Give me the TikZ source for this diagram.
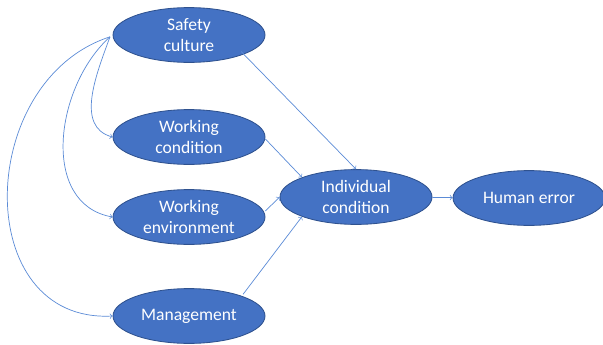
\documentclass[tikz,border=0pt]{standalone}
\usepackage{fontspec}
\setmainfont{Carlito}
\usetikzlibrary{positioning}
\usetikzlibrary{shapes}
\usetikzlibrary{arrows}
\definecolor{boxblue}{HTML}{4472C4}
\definecolor{rimblue}{HTML}{2F528F}
\definecolor{linkblue}{HTML}{5B8BD6}
\tikzstyle{E} = [ellipse,draw=rimblue,fill=boxblue,line width=0.6pt,minimum width=3.8cm,minimum height=1.37cm,inner sep=0pt,text=white,align=center,font=\fontsize{12.5}{14.5}\selectfont]
\tikzstyle{L} = [->,draw=linkblue,line width=0.5pt]

\begin{document}
\begin{tikzpicture}
	\useasboundingbox (0,0) rectangle (15.075,-8.6);
	
	\node [E] (sc) at(4.725,-0.875) {Safety\\culture};
	\node [E] (wc) at(4.725,-3.425) {Working\\condition};
	\node [E] (we) at(4.725,-5.425) {Working\\environment};
	\node [E] (m) at(4.725,-7.9) {Management};
	\node [E] (ic) at(8.9,-4.925) {Individual\\condition};
	\node [E] (he) at(13.225,-4.95) {Human error};
	%%%%%%%%%%%%%%%
	\coordinate (s) at (2.75,-0.92);
	\draw [L] (s) to[out=250,in=165] (wc.west);
	\draw [L] (s) to[out=222,in=170,looseness=1.05] (we.west);
	\draw [L] (s) to[out=198,in=183,looseness=1.3] (m.west);
	%%%%%%%%%%%%%%%
	\draw [L] (sc.south east) ++(-0.05,0.08) coordinate (a) -- (ic.north);
	\draw [L] (wc.east) ++(0,-0.05) coordinate (b) -- (ic.north west);
	\draw [L] (we.east) ++(0,0.15) coordinate (c) -- (ic.west);
	\draw [L] (m.north east) ++(0,0.05) coordinate (d) -- (ic.south west);
	\draw [L] (ic) -- (he);
\end{tikzpicture}
\end{document}
